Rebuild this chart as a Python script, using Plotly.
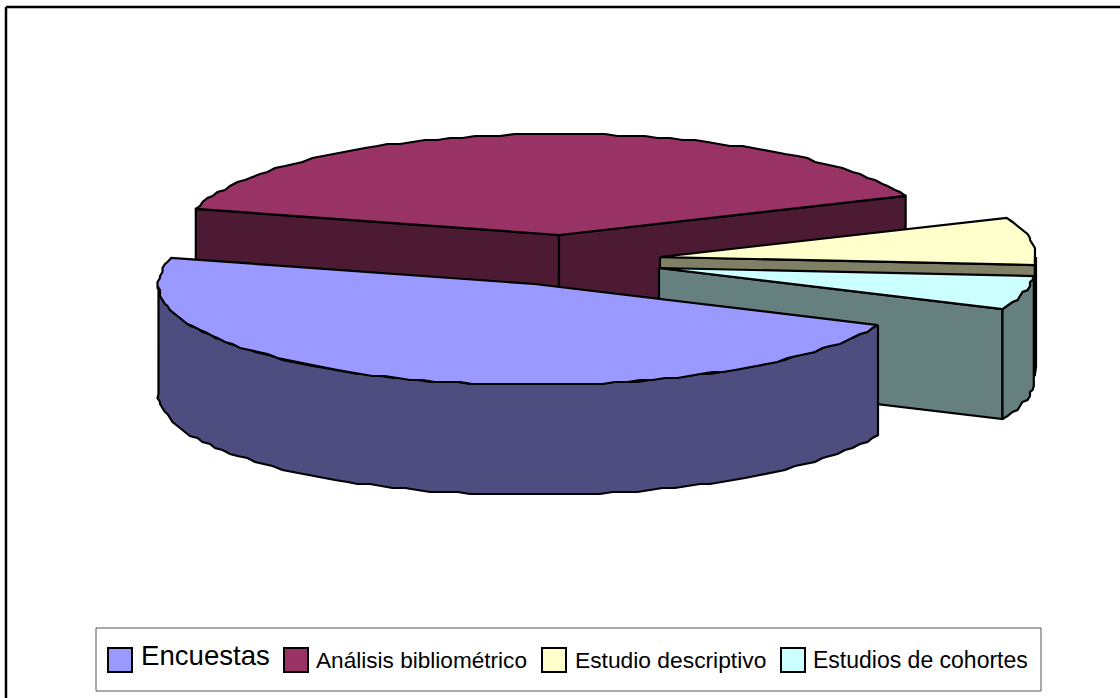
import numpy as np
import plotly.graph_objects as go

# Data: share of each study type, in percent
categories = ["Encuestas", "Análisis bibliométrico", "Estudio descriptivo", "Estudios de cohortes"]
values = [47.5, 39.5, 7.6, 5.4]

# Styling per slice
top_colors = ["#9999FF", "#993366", "#FFFFCC", "#CCFFFF"]
wall_colors = ["#4D4D80", "#4D1A33", "#808066", "#668080"]
# Centre of each (exploded) slice on the page
centres = [(534.5, 284), (559, 235), (660, 257), (659, 268)]

# Pie projection, in page pixels
RX, RY, DEPTH = 376, 101, 110
START_DEG = 24
STEP_DEG = 2.0
GRID_X, GRID_Y = 2.5, 2.0  # rim points snap to this grid, giving the stepped outline

cuts = START_DEG + np.concatenate([[0], np.cumsum(values)]) * 3.6
spans = list(zip(cuts[:-1], cuts[1:]))


def arc(c, t0, t1):
    """Outer rim between two angles; inner points sit on a coarse pixel grid."""
    n = max(2, int(round((t1 - t0) / STEP_DEG)) + 1)
    t = np.radians(np.linspace(t0, t1, n))
    x = c[0] + RX * np.cos(t)
    y = c[1] + RY * np.sin(t)
    x[1:-1] = np.round(x[1:-1] / GRID_X) * GRID_X
    y[1:-1] = np.round(y[1:-1] / GRID_Y) * GRID_Y
    return x, y


def poly(fig, xs, ys, color, name, width=2.2):
    fig.add_trace(go.Scatter(
        x=list(xs) + [xs[0]], y=list(ys) + [ys[0]], mode="lines", fill="toself",
        fillcolor=color, line=dict(color="black", width=width),
        name=name, hoverinfo="name", showlegend=False,
    ))


def top(fig, i):
    c = centres[i]
    ax, ay = arc(c, *spans[i])
    poly(fig, [c[0], *ax], [c[1], *ay], top_colors[i], categories[i])


def rim_wall(fig, i, t0, t1):
    ax, ay = arc(centres[i], t0, t1)
    poly(fig, [*ax, *ax[::-1]], [*ay, *(ay[::-1] + DEPTH)], wall_colors[i], categories[i])


def cut_wall(fig, i, t):
    c = centres[i]
    ax, ay = arc(c, t, t + 1)
    px, py = ax[0], ay[0]
    poly(fig, [c[0], px, px, c[0]], [c[1], py, py + DEPTH, c[1] + DEPTH],
         wall_colors[i], categories[i])


fig = go.Figure()

# Back slice: two cut faces, then the top
cut_wall(fig, 1, spans[1][0])
cut_wall(fig, 1, spans[1][1])
top(fig, 1)

# Small exploded slices on the right
rim_wall(fig, 2, 360, spans[2][1])
cut_wall(fig, 2, spans[2][1])
top(fig, 2)
cut_wall(fig, 3, spans[3][1])
rim_wall(fig, 3, spans[3][0], spans[3][1])
top(fig, 3)

# Front slice
rim_wall(fig, 0, spans[0][0], 180)
top(fig, 0)

# Legend box with swatches and labels
swatch_x = [108, 284, 542, 781]
swatch_y = [(648, 672), (648, 672), (648, 672), (648, 672)]
label_x = [141, 316, 575, 813]
label_y = [655, 660, 660, 660]
label_size = [27.6, 22.6, 22.8, 23]

shapes = [
    # Chart frame, running off the page on the right and at the bottom
    dict(type="line", x0=6, x1=1125, y0=7, y1=7, line=dict(color="black", width=2.5)),
    dict(type="line", x0=6, x1=6, y0=7, y1=703, line=dict(color="black", width=2.5)),
    dict(type="rect", x0=96, x1=1041, y0=628, y1=691, line=dict(color="#555555", width=1),
         fillcolor="white"),
]
annotations = []
for i, name in enumerate(categories):
    shapes.append(dict(type="rect", x0=swatch_x[i], x1=swatch_x[i] + 24,
                       y0=swatch_y[i][0], y1=swatch_y[i][1],
                       line=dict(color="black", width=2), fillcolor=top_colors[i]))
    annotations.append(dict(x=label_x[i], y=label_y[i], text=name, showarrow=False,
                            xanchor="left", yanchor="middle", xref="x", yref="y",
                            borderpad=0, borderwidth=0,
                            font=dict(family="Liberation Sans", size=label_size[i], color="black")))

fig.update_layout(
    width=1120, height=698, margin=dict(l=0, r=0, t=0, b=0),
    paper_bgcolor="white", plot_bgcolor="white", showlegend=False,
    xaxis=dict(range=[0, 1120], visible=False, fixedrange=True),
    yaxis=dict(range=[698, 0], visible=False, fixedrange=True),
    shapes=shapes, annotations=annotations,
)

fig.write_html("out.html", config=dict(displayModeBar=False))
